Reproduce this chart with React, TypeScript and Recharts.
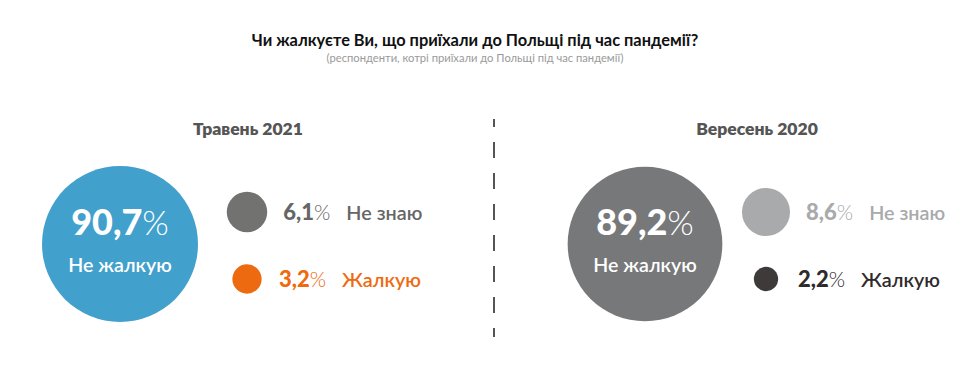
import React from 'react';
import { ScatterChart, Scatter, XAxis, YAxis, ZAxis } from 'recharts';

// ---- data ----
const chartTitle = 'Чи жалкуєте Ви, що приїхали до Польщі під час пандемії?';
const chartSubtitle = '(респонденти, котрі приїхали до Польщі під час пандемії)';
const panels = ['Травень 2021', 'Вересень 2020'];
const categories = ['Не жалкую', 'Не знаю', 'Жалкую'];
const may2021 = [90.7, 6.1, 3.2];
const sep2020 = [89.2, 8.6, 2.2];
const seriesValues = [may2021, sep2020];

// ---- layout & style ----
const W = 980;
const H = 375;
const FONT = 'Lato, "Open Sans", sans-serif';
const BIG_R = 78;
const PANEL_BIG_X = [120, 645];
const PANEL_SIDE_X = [247, 766];
const PANEL_TITLE_X = [248, 757];
const BIG_Y = 244;
const ROW_Y = [212, 279];
const FILLS = [
  ['#42a0cc', '#727271', '#ee6a10'],
  ['#77787a', '#a8aaac', '#3e3a3a'],
];
const TEXT_COLORS = [
  ['#ffffff', '#666666', '#ee6a10'],
  ['#ffffff', '#a8aaac', '#2f2b2b'],
];

const maxValue = Math.max(...may2021, ...sep2020);

type Pt = {
  x: number;
  y: number;
  z: number;
  cat: number;
  panel: number;
  label: string;
  fill: string;
  textColor: string;
};

const points: Pt[] = [];
seriesValues.forEach((vals, p) => {
  vals.forEach((v, i) => {
    points.push({
      x: i === 0 ? PANEL_BIG_X[p] : PANEL_SIDE_X[p],
      y: i === 0 ? BIG_Y : ROW_Y[i - 1],
      z: v,
      cat: i,
      panel: p,
      label: categories[i],
      fill: FILLS[p][i],
      textColor: TEXT_COLORS[p][i],
    });
  });
});

const fmt = (v: number) => v.toFixed(1).replace('.', ',');

const Bubble = (props: any) => {
  const { cx, cy, payload } = props;
  const size = props.size ?? Math.PI * Math.pow((props.width || 0) / 2, 2);
  const r = Math.sqrt(Math.max(size, 0) / Math.PI);
  const d: Pt = payload;
  if (d.cat === 0) {
    return (
      <g>
        <circle cx={cx} cy={cy} r={r} fill={d.fill} />
        <text
          x={cx}
          y={cy - 9}
          textAnchor="middle"
          fontFamily={FONT}
          fill={d.textColor}
        >
          <tspan fontSize={36} fontWeight={900}>{fmt(d.z)}</tspan>
          <tspan fontSize={34} fontWeight={300}>%</tspan>
        </text>
        <text
          x={cx}
          y={cy + 28}
          textAnchor="middle"
          fontFamily={FONT}
          fontSize={19.6}
          fontWeight={600}
          fill={d.textColor}
        >
          {d.label}
        </text>
      </g>
    );
  }
  return (
    <g>
      <circle cx={cx} cy={cy} r={r} fill={d.fill} />
      <text x={cx + Math.max(r, 16) + 16} y={cy + 8} fontFamily={FONT} fill={d.textColor}>
        <tspan fontSize={22} fontWeight={900}>{fmt(d.z)}</tspan>
        <tspan fontSize={21} fontWeight={300}>%</tspan>
        <tspan dx={16} fontSize={19.8} fontWeight={600}>{d.label}</tspan>
      </text>
    </g>
  );
};

export default function App() {
  return (
    <div style={{ position: 'absolute', left: 0, top: 0, width: W, height: H, background: '#fff' }}>
      <ScatterChart width={W} height={H} margin={{ top: 0, right: 0, bottom: 0, left: 0 }}>
        <XAxis type="number" dataKey="x" domain={[0, W]} hide />
        <YAxis type="number" dataKey="y" domain={[0, H]} reversed hide />
        <ZAxis type="number" dataKey="z" domain={[0, maxValue]} range={[0, Math.PI * BIG_R * BIG_R]} />
        <Scatter data={points} shape={<Bubble />} isAnimationActive={false} />
      </ScatterChart>
      <svg
        width={W}
        height={H}
        style={{ position: 'absolute', left: 0, top: 0, pointerEvents: 'none' }}
      >
        <text x={475} y={46} textAnchor="middle" fontFamily={FONT} fontSize={16.4} fontWeight={700} fill="#111">
          {chartTitle}
        </text>
        <text x={475} y={62} textAnchor="middle" fontFamily={FONT} fontSize={11.2} fill="#9a9a9a">
          {chartSubtitle}
        </text>
        {panels.map((t, p) => (
          <text
            key={t}
            x={PANEL_TITLE_X[p]}
            y={135}
            textAnchor="middle"
            fontFamily={FONT}
            fontSize={17.5}
            fontWeight={800}
            fill="#555"
          >
            {t}
          </text>
        ))}
        <line
          x1={494}
          x2={494}
          y1={119}
          y2={337}
          stroke="#555"
          strokeWidth={2}
          strokeDasharray="16 15"
          strokeDashoffset={8}
        />
      </svg>
    </div>
  );
}
